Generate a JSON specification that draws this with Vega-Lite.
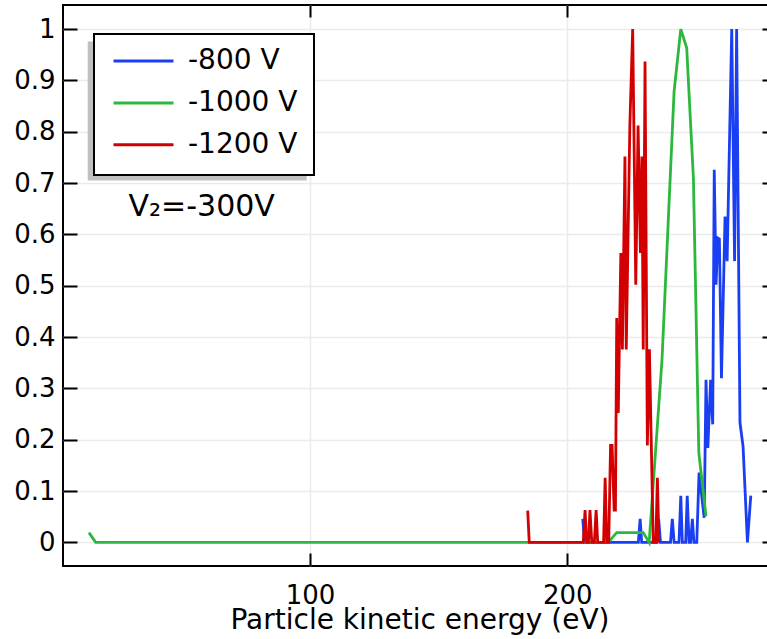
{
  "$schema": "https://vega.github.io/schema/vega-lite/v6.json",
  "width": 713,
  "height": 561,
  "autosize": "none",
  "padding": {"left": 63, "top": 5, "right": 0, "bottom": 73},
  "background": "white",
  "config": {
    "font": "DejaVu Sans",
    "view": {"stroke": "black", "strokeWidth": 2},
    "axis": {"domain": false, "tickColor": "black", "tickWidth": 2, "labelColor": "black", "titleColor": "black", "labelFont": "DejaVu Sans", "titleFont": "DejaVu Sans", "labelFontSize": 26, "titleFontSize": 28, "titleFontWeight": "normal", "gridColor": "#ebebeb", "gridWidth": 1.5},
    "legend": {"orient": "none", "legendX": 31, "legendY": 29, "fillColor": "white", "strokeColor": "black", "strokeWidth": 2, "padding": 16, "symbolOffset": 2, "symbolType": "stroke", "symbolSize": 3600, "symbolStrokeWidth": 3, "labelFontSize": 28, "labelFont": "DejaVu Sans", "labelColor": "black", "labelOffset": 13, "clipHeight": 22, "rowPadding": 13.9}
  },
  "datasets": {
    "curves": [
      {"series": "-800 V", "energy": 206.0, "value": 0.046},
      {"series": "-800 V", "energy": 206.7, "value": 0},
      {"series": "-800 V", "energy": 227.6, "value": 0},
      {"series": "-800 V", "energy": 228.3, "value": 0.046},
      {"series": "-800 V", "energy": 228.9, "value": 0},
      {"series": "-800 V", "energy": 234.9, "value": 0},
      {"series": "-800 V", "energy": 235.5, "value": 0.046},
      {"series": "-800 V", "energy": 236.2, "value": 0},
      {"series": "-800 V", "energy": 240.1, "value": 0},
      {"series": "-800 V", "energy": 240.8, "value": 0.046},
      {"series": "-800 V", "energy": 241.5, "value": 0},
      {"series": "-800 V", "energy": 243.4, "value": 0},
      {"series": "-800 V", "energy": 244.1, "value": 0.091},
      {"series": "-800 V", "energy": 244.7, "value": 0},
      {"series": "-800 V", "energy": 246.0, "value": 0},
      {"series": "-800 V", "energy": 246.6, "value": 0.091},
      {"series": "-800 V", "energy": 247.3, "value": 0},
      {"series": "-800 V", "energy": 247.9, "value": 0},
      {"series": "-800 V", "energy": 248.6, "value": 0.046},
      {"series": "-800 V", "energy": 249.2, "value": 0},
      {"series": "-800 V", "energy": 250.3, "value": 0},
      {"series": "-800 V", "energy": 251.2, "value": 0.136},
      {"series": "-800 V", "energy": 253.2, "value": 0.048},
      {"series": "-800 V", "energy": 253.9, "value": 0.317},
      {"series": "-800 V", "energy": 254.6, "value": 0.184},
      {"series": "-800 V", "energy": 255.7, "value": 0.317},
      {"series": "-800 V", "energy": 256.5, "value": 0.23},
      {"series": "-800 V", "energy": 257.1, "value": 0.726},
      {"series": "-800 V", "energy": 257.8, "value": 0.502},
      {"series": "-800 V", "energy": 258.5, "value": 0.593},
      {"series": "-800 V", "energy": 259.1, "value": 0.591},
      {"series": "-800 V", "energy": 259.9, "value": 0.32},
      {"series": "-800 V", "energy": 261.3, "value": 0.635},
      {"series": "-800 V", "energy": 262.1, "value": 0.548},
      {"series": "-800 V", "energy": 263.9, "value": 1.0},
      {"series": "-800 V", "energy": 265.0, "value": 0.548},
      {"series": "-800 V", "energy": 265.8, "value": 1.0},
      {"series": "-800 V", "energy": 267.1, "value": 0.233},
      {"series": "-800 V", "energy": 268.3, "value": 0.187},
      {"series": "-800 V", "energy": 270.0, "value": 0},
      {"series": "-800 V", "energy": 271.3, "value": 0.091},
      {"series": "-1000 V", "energy": 14.1, "value": 0.019},
      {"series": "-1000 V", "energy": 16.7, "value": 0},
      {"series": "-1000 V", "energy": 215.9, "value": 0},
      {"series": "-1000 V", "energy": 219.2, "value": 0.019},
      {"series": "-1000 V", "energy": 229.5, "value": 0.019},
      {"series": "-1000 V", "energy": 231.8, "value": 0},
      {"series": "-1000 V", "energy": 236.8, "value": 0.356},
      {"series": "-1000 V", "energy": 241.5, "value": 0.879},
      {"series": "-1000 V", "energy": 244.1, "value": 1.0},
      {"series": "-1000 V", "energy": 246.4, "value": 0.963},
      {"series": "-1000 V", "energy": 249.0, "value": 0.71},
      {"series": "-1000 V", "energy": 251.1, "value": 0.175},
      {"series": "-1000 V", "energy": 253.9, "value": 0.051},
      {"series": "-1200 V", "energy": 184.6, "value": 0.062},
      {"series": "-1200 V", "energy": 185.2, "value": 0},
      {"series": "-1200 V", "energy": 206.2, "value": 0},
      {"series": "-1200 V", "energy": 206.9, "value": 0.063},
      {"series": "-1200 V", "energy": 207.5, "value": 0},
      {"series": "-1200 V", "energy": 208.2, "value": 0},
      {"series": "-1200 V", "energy": 208.8, "value": 0.063},
      {"series": "-1200 V", "energy": 209.5, "value": 0},
      {"series": "-1200 V", "energy": 210.5, "value": 0},
      {"series": "-1200 V", "energy": 211.2, "value": 0.063},
      {"series": "-1200 V", "energy": 211.8, "value": 0},
      {"series": "-1200 V", "energy": 214.1, "value": 0},
      {"series": "-1200 V", "energy": 214.7, "value": 0.126},
      {"series": "-1200 V", "energy": 215.3, "value": 0},
      {"series": "-1200 V", "energy": 216.1, "value": 0},
      {"series": "-1200 V", "energy": 216.8, "value": 0.189},
      {"series": "-1200 V", "energy": 217.4, "value": 0.189},
      {"series": "-1200 V", "energy": 218.2, "value": 0.063},
      {"series": "-1200 V", "energy": 218.7, "value": 0.063},
      {"series": "-1200 V", "energy": 219.2, "value": 0.437},
      {"series": "-1200 V", "energy": 219.8, "value": 0.252},
      {"series": "-1200 V", "energy": 220.8, "value": 0.564},
      {"series": "-1200 V", "energy": 221.4, "value": 0.376},
      {"series": "-1200 V", "energy": 222.4, "value": 0.752},
      {"series": "-1200 V", "energy": 222.9, "value": 0.376},
      {"series": "-1200 V", "energy": 224.3, "value": 0.812},
      {"series": "-1200 V", "energy": 225.4, "value": 1.0},
      {"series": "-1200 V", "energy": 226.6, "value": 0.502},
      {"series": "-1200 V", "energy": 227.5, "value": 0.812},
      {"series": "-1200 V", "energy": 228.4, "value": 0.564},
      {"series": "-1200 V", "energy": 229.0, "value": 0.752},
      {"series": "-1200 V", "energy": 229.5, "value": 0.376},
      {"series": "-1200 V", "energy": 230.2, "value": 0.937},
      {"series": "-1200 V", "energy": 231.1, "value": 0.189},
      {"series": "-1200 V", "energy": 231.9, "value": 0.376},
      {"series": "-1200 V", "energy": 233.4, "value": 0},
      {"series": "-1200 V", "energy": 234.4, "value": 0},
      {"series": "-1200 V", "energy": 235.0, "value": 0.126},
      {"series": "-1200 V", "energy": 235.6, "value": 0}
    ]
  },
  "layer": [
    {
      "data": {"values": [{}]},
      "mark": {"type": "rect", "fill": "#c0c0c0"},
      "encoding": {
        "x": {"datum": 13.6, "type": "quantitative", "scale": {"domain": [4.0, 281.1], "nice": false, "zero": false},
              "axis": {"orient": "top", "values": [100, 200], "labels": false, "grid": false, "tickSize": -12, "title": null}},
        "x2": {"datum": 98.7},
        "y": {"datum": 0.705, "type": "quantitative", "scale": {"domain": [-0.046, 1.047], "nice": false, "zero": false},
              "axis": {"orient": "right", "values": [0, 0.1, 0.2, 0.3, 0.4, 0.5, 0.6, 0.7, 0.8, 0.9, 1], "labels": false, "grid": false, "tickSize": -14, "title": null}},
        "y2": {"datum": 0.976}
      }
    },
    {
      "data": {"name": "curves"},
      "mark": {"type": "line", "strokeWidth": 2.8, "clip": true},
      "encoding": {
        "x": {"field": "energy", "type": "quantitative",
              "axis": {"orient": "bottom", "values": [100, 200], "grid": true, "tickSize": -13, "labelPadding": 29, "title": "Particle kinetic energy (eV)", "titlePadding": -2}},
        "y": {"field": "value", "type": "quantitative",
              "axis": {"orient": "left", "values": [0, 0.1, 0.2, 0.3, 0.4, 0.5, 0.6, 0.7, 0.8, 0.9, 1], "format": ".1~f", "grid": true, "tickSize": -14, "labelPadding": 22, "title": null}},
        "color": {"field": "series", "type": "nominal", "sort": ["-800 V", "-1000 V", "-1200 V"],
                  "scale": {"domain": ["-800 V", "-1000 V", "-1200 V"], "range": ["#1a3ef2", "#2cb83c", "#d20000"]},
                  "legend": {"title": null}}
      }
    },
    {
      "data": {"values": [{"label": "V₂=-300V"}]},
      "mark": {"type": "text", "font": "DejaVu Sans", "fontSize": 30, "color": "black", "align": "center", "baseline": "middle"},
      "encoding": {
        "x": {"datum": 57.9, "type": "quantitative", "axis": null},
        "y": {"datum": 0.653, "type": "quantitative", "axis": null},
        "text": {"field": "label"}
      }
    }
  ],
  "resolve": {"axis": {"x": "independent", "y": "independent"}}
}
